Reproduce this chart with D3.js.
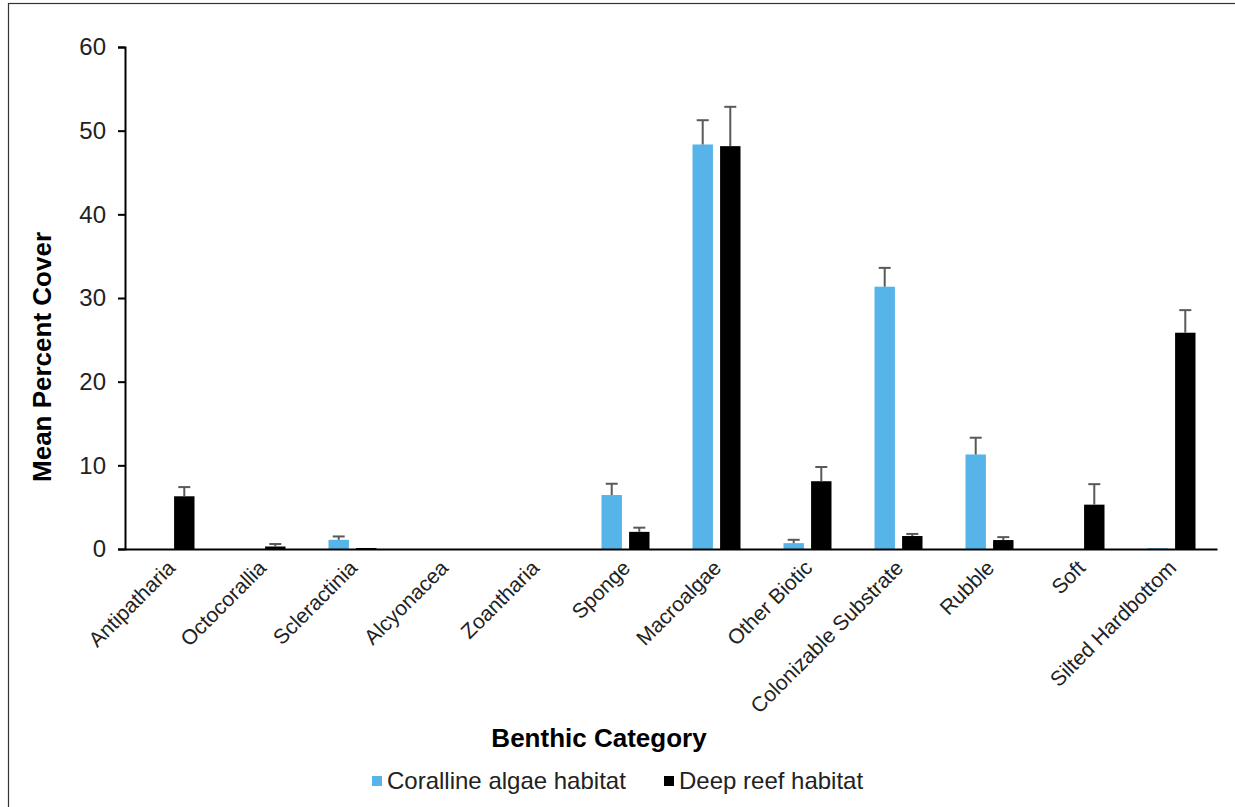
<!DOCTYPE html>
<html>
<head>
<meta charset="utf-8">
<script src="https://cdn.jsdelivr.net/npm/d3@7"></script>
<style>
  body { margin: 0; background: #fff; }
  text { font-family: "Liberation Sans", Arial, sans-serif; }
</style>
</head>
<body>
<svg id="chart" width="1235" height="807"></svg>
<script>
// data
var categories = ["Antipatharia", "Octocorallia", "Scleractinia", "Alcyonacea", "Zoantharia",
  "Sponge", "Macroalgae", "Other Biotic", "Colonizable Substrate", "Rubble", "Soft", "Silted Hardbottom"];
var seriesNames = ["Coralline algae habitat", "Deep reef habitat"];
var corallineMean = [0, 0, 1.1, 0, 0, 6.45, 48.35, 0.7, 31.35, 11.3, 0, 0.1];
var corallineErr  = [0, 0, 0.4, 0, 0, 1.35, 2.9, 0.4, 2.25, 2.0, 0, 0];
var deepMean = [6.3, 0.3, 0.12, 0, 0, 2.05, 48.15, 8.1, 1.55, 1.07, 5.3, 25.85];
var deepErr  = [1.1, 0.3, 0, 0, 0, 0.5, 4.7, 1.7, 0.25, 0.35, 2.45, 2.7];
var yTicks = [0, 10, 20, 30, 40, 50, 60];
var colors = ["#56b4e9", "#000000"];

var svg = d3.select("#chart");
var margin = {top: 47, left: 125, right: 18};
var width = 1217 - margin.left;
var height = 549 - margin.top;

// frame
svg.append("rect")
  .attr("x", 8.5).attr("y", 3.5)
  .attr("width", 1300).attr("height", 900)
  .attr("fill", "none").attr("stroke", "#333").attr("stroke-width", 1.2);

var g = svg.append("g").attr("transform", "translate(" + margin.left + "," + margin.top + ")");

var x = d3.scaleBand().domain(categories).range([0, width]).paddingInner(0).paddingOuter(0);
var xInner = d3.scaleBand().domain(seriesNames).range([x.bandwidth() / 2 - 24, x.bandwidth() / 2 + 24]).paddingInner(0.26);
var y = d3.scaleLinear().domain([0, 60]).range([height, 0]);

var rows = [];
categories.forEach(function(c, i) {
  rows.push({cat: c, s: seriesNames[0], v: corallineMean[i], e: corallineErr[i], col: colors[0]});
  rows.push({cat: c, s: seriesNames[1], v: deepMean[i], e: deepErr[i], col: colors[1]});
});

// bars
g.selectAll("rect.bar")
  .data(rows.filter(function(d) { return d.v > 0; }))
  .enter().append("rect")
    .attr("class", "bar")
    .attr("x", function(d) { return x(d.cat) + xInner(d.s); })
    .attr("y", function(d) { return y(d.v); })
    .attr("width", xInner.bandwidth())
    .attr("height", function(d) { return height - y(d.v); })
    .style("fill", function(d) { return d.col; });

// error bars (upper only)
var eb = g.selectAll("g.err")
  .data(rows.filter(function(d) { return d.e > 0; }))
  .enter().append("g").attr("class", "err")
  .attr("stroke", "#595959").attr("stroke-width", 2);
eb.append("line")
  .attr("x1", function(d) { return x(d.cat) + xInner(d.s) + xInner.bandwidth() / 2; })
  .attr("x2", function(d) { return x(d.cat) + xInner(d.s) + xInner.bandwidth() / 2; })
  .attr("y1", function(d) { return y(d.v); })
  .attr("y2", function(d) { return y(d.v + d.e); });
eb.append("line")
  .attr("x1", function(d) { return x(d.cat) + xInner(d.s) + xInner.bandwidth() / 2 - 6; })
  .attr("x2", function(d) { return x(d.cat) + xInner(d.s) + xInner.bandwidth() / 2 + 6; })
  .attr("y1", function(d) { return y(d.v + d.e); })
  .attr("y2", function(d) { return y(d.v + d.e); });

// y axis
var yAxis = g.append("g")
  .call(d3.axisLeft(y).tickValues(yTicks).tickSize(7).tickPadding(12));
yAxis.select(".domain").attr("stroke", "#000").attr("stroke-width", 2);
yAxis.selectAll(".tick line").attr("stroke", "#000").attr("stroke-width", 2);
yAxis.selectAll("text").style("font-size", "24px").attr("fill", "#222");

// x axis
var xAxis = g.append("g")
  .attr("transform", "translate(0," + height + ")")
  .call(d3.axisBottom(x).tickSize(0).tickSizeOuter(0));
xAxis.select(".domain").attr("stroke", "#000").attr("stroke-width", 2);
xAxis.selectAll("text")
  .style("font-size", "21px")
  .attr("fill", "#222")
  .style("text-anchor", "end")
  .attr("dy", "0")
  .attr("transform", "translate(4,18) rotate(-45)");

// axis titles
svg.append("text")
  .attr("transform", "translate(51,357) rotate(-90)")
  .attr("text-anchor", "middle")
  .style("font-size", "26px").style("font-weight", "bold")
  .text("Mean Percent Cover");

svg.append("text")
  .attr("x", 599).attr("y", 747)
  .attr("text-anchor", "middle")
  .style("font-size", "26px").style("font-weight", "bold")
  .text("Benthic Category");

// legend
var legendX = [372, 664];
var legend = svg.selectAll(".legend")
  .data(seriesNames)
  .enter().append("g")
  .attr("class", "legend")
  .attr("transform", function(d, i) { return "translate(" + legendX[i] + ",781)"; });
legend.append("rect")
  .attr("x", 0).attr("y", -5)
  .attr("width", 10).attr("height", 10)
  .style("fill", function(d, i) { return colors[i]; });
legend.append("text")
  .attr("x", 15).attr("y", 0)
  .attr("dy", ".35em")
  .style("font-size", "24px").attr("fill", "#222")
  .text(function(d) { return d; });
</script>
</body>
</html>
